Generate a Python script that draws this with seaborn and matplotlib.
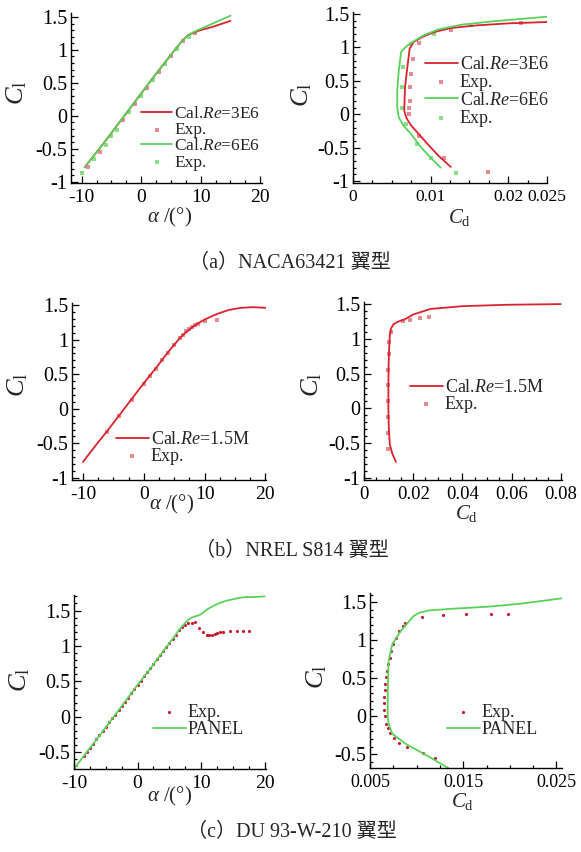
import matplotlib
matplotlib.use("Agg")
import matplotlib.pyplot as plt
import seaborn as sns
from matplotlib.ticker import FixedLocator, MultipleLocator, FuncFormatter

# ---------------- data ----------------
# (a) NACA63421
alpha_a = [-9.5, -8, -6, -4, -2, 0, 2, 4, 6, 7, 8, 9, 10, 12, 15]
cl_a_3e6 = [-0.78, -0.61, -0.38, -0.14, 0.10, 0.34, 0.58, 0.81, 1.04, 1.15, 1.23, 1.27, 1.30, 1.35, 1.44]
cl_a_6e6 = [-0.78, -0.61, -0.38, -0.14, 0.10, 0.34, 0.58, 0.81, 1.04, 1.15, 1.23, 1.28, 1.32, 1.40, 1.52]
exp_alpha_a_3e6 = [-9, -7, -5, -3, -1, 1, 3, 5, 7, 8, 9]
exp_cl_a_3e6 = [-0.77, -0.55, -0.31, -0.07, 0.18, 0.42, 0.66, 0.90, 1.13, 1.21, 1.25]
exp_alpha_a_6e6 = [-10, -8, -6, -5, -4, -2, 0, 2, 4, 6, 8]
exp_cl_a_6e6 = [-0.87, -0.66, -0.44, -0.31, -0.21, 0.05, 0.30, 0.54, 0.78, 1.02, 1.20]

cd_a_3e6 = [0.0126, 0.0110, 0.0098, 0.0085, 0.0075, 0.0069, 0.0066, 0.0067, 0.0070, 0.0073,
            0.0078, 0.0090, 0.0105, 0.0126, 0.0160, 0.0200, 0.0250]
clp_a_3e6 = [-0.79, -0.62, -0.47, -0.30, -0.17, -0.06, 0.05, 0.40, 0.70, 0.98,
             1.08, 1.16, 1.23, 1.29, 1.33, 1.36, 1.38]
cd_a_6e6 = [0.0113, 0.0100, 0.0088, 0.0075, 0.0065, 0.0059, 0.0057, 0.0057, 0.0059, 0.0062,
            0.0068, 0.0078, 0.0091, 0.0110, 0.0140, 0.0180, 0.0250]
clp_a_6e6 = [-0.80, -0.65, -0.50, -0.30, -0.17, -0.05, 0.10, 0.35, 0.65, 0.93,
             1.01, 1.09, 1.18, 1.27, 1.34, 1.39, 1.46]
exp_cd_a_3e6 = [0.0174, 0.0117, 0.0085, 0.0072, 0.0072, 0.0073, 0.0074, 0.0075, 0.0077, 0.0085, 0.0126, 0.0217]
exp_clp_a_3e6 = [-0.87, -0.66, -0.33, 0.0, 0.10, 0.20, 0.40, 0.60, 0.83, 1.07, 1.26, 1.36]
exp_cd_a_6e6 = [0.0133, 0.0100, 0.0083, 0.0068, 0.0063, 0.0063, 0.0065, 0.0075, 0.0105, 0.0152]
exp_clp_a_6e6 = [-0.88, -0.65, -0.45, -0.15, 0.10, 0.40, 0.70, 1.05, 1.20, 1.34]

# (b) NREL S814
alpha_b = [-10, -8, -6, -4, -2, 0, 2, 4, 6, 7, 8, 9, 10, 11, 12, 13, 14, 16, 18, 20]
cl_b = [-0.77, -0.54, -0.32, -0.09, 0.14, 0.37, 0.59, 0.82, 1.03, 1.11, 1.18, 1.24, 1.29,
        1.33, 1.37, 1.40, 1.43, 1.46, 1.47, 1.46]
exp_alpha_b = [-6, -4, -2, 0, 1, 2, 3, 4, 5, 6, 6.5, 7, 7.5, 8, 8.5, 9, 10, 12]
exp_cl_b = [-0.33, -0.10, 0.13, 0.36, 0.47, 0.58, 0.70, 0.81, 0.92, 1.02, 1.07, 1.12,
            1.16, 1.19, 1.21, 1.23, 1.27, 1.29]
cd_b = [0.0130, 0.0115, 0.0105, 0.0101, 0.0099, 0.0099, 0.0100, 0.0102, 0.0105, 0.0110,
        0.0120, 0.0140, 0.0165, 0.0200, 0.0270, 0.0400, 0.0580, 0.0800]
clp_b = [-0.77, -0.65, -0.52, -0.30, 0.00, 0.30, 0.60, 0.85, 1.05, 1.15,
         1.21, 1.25, 1.28, 1.35, 1.43, 1.47, 1.49, 1.50]
exp_cd_b = [0.0097, 0.0096, 0.0096, 0.0096, 0.0097, 0.0098, 0.0100, 0.0103, 0.0108,
            0.0160, 0.0186, 0.0227, 0.0265]
exp_clp_b = [-0.58, -0.35, -0.12, 0.10, 0.33, 0.55, 0.78, 0.95, 1.10, 1.25, 1.27, 1.30, 1.31]

# (c) DU 93-W-210
alpha_c = [-10, -8, -6, -4, -2, 0, 2, 4, 6, 7, 8, 8.5, 9.5, 10, 11, 12, 13, 14, 15, 16, 17, 18, 20]
cl_c = [-0.74, -0.50, -0.27, -0.03, 0.21, 0.45, 0.68, 0.92, 1.16, 1.28, 1.37, 1.40, 1.43,
        1.45, 1.52, 1.57, 1.61, 1.64, 1.66, 1.68, 1.69, 1.69, 1.70]
exp_alpha_c = [-8.5, -8, -7.5, -7, -6.5, -6, -5.5, -5, -4.5, -4, -3.5, -3, -2.5, -2, -1.5, -1,
               -0.5, 0, 0.5, 1, 1.5, 2, 2.5, 3, 3.5, 4, 4.5, 5, 5.5, 6, 6.5, 7, 7.5, 8, 8.5, 9,
               9.7, 10.3, 10.9, 11.3, 11.7, 12.1, 12.5, 13.0, 13.5, 14.5, 15.6, 16.6, 17.6]
exp_cl_c = [-0.56, -0.50, -0.44, -0.38, -0.32, -0.26, -0.20, -0.14, -0.08, -0.02, 0.03, 0.09,
            0.15, 0.21, 0.27, 0.33, 0.39, 0.45, 0.51, 0.57, 0.63, 0.69, 0.75, 0.81, 0.87, 0.93,
            0.98, 1.04, 1.10, 1.16, 1.22, 1.27, 1.30, 1.32, 1.33, 1.34,
            1.25, 1.20, 1.16, 1.15, 1.15, 1.17, 1.18, 1.19, 1.20, 1.21, 1.21, 1.21, 1.21]
cd_c = [0.0134, 0.0113, 0.0088, 0.0074, 0.0070, 0.0069, 0.0069, 0.0070, 0.0074, 0.0083,
        0.0092, 0.0097, 0.0103, 0.0113, 0.0134, 0.0177, 0.0212, 0.0256]
clp_c = [-0.68, -0.53, -0.36, -0.23, -0.10, 0.00, 0.30, 0.73, 0.95, 1.12,
         1.25, 1.32, 1.36, 1.39, 1.41, 1.44, 1.48, 1.55]
exp_cd_c = [0.0120, 0.0107, 0.0090, 0.0081, 0.0076, 0.0071, 0.0069, 0.0067, 0.0066, 0.0065,
            0.0065, 0.0065, 0.0066, 0.0066, 0.0067, 0.0068, 0.0069, 0.0071, 0.0072, 0.0075,
            0.0078, 0.0081, 0.0085, 0.0088, 0.0106, 0.0128, 0.0153, 0.0180, 0.0198]
exp_clp_c = [-0.55, -0.48, -0.41, -0.35, -0.28, -0.22, -0.16, -0.10, 0.00, 0.08,
             0.17, 0.25, 0.34, 0.43, 0.51, 0.60, 0.69, 0.77, 0.86, 0.95,
             1.03, 1.12, 1.19, 1.23, 1.30, 1.33, 1.34, 1.35, 1.35]

captions = ["（a）NACA63421 翼型", "（b）NREL S814 翼型", "（c）DU 93-W-210 翼型"]

# ---------------- style ----------------
sns.set_style("ticks")
plt.rcParams["font.family"] = ["Liberation Serif", "Noto Sans CJK SC"]
plt.rcParams["mathtext.fontset"] = "custom"
plt.rcParams["mathtext.rm"] = "Liberation Serif"
plt.rcParams["mathtext.it"] = "Liberation Serif:italic"
plt.rcParams["axes.unicode_minus"] = False

RED = "#d9232e"
GREEN = "#5ad25a"
PINK = "#e88a92"
LGREEN = "#86e086"
DOT = "#c8142e"

W, H = 581, 852
fig = plt.figure(figsize=(W / 100, H / 100), dpi=100)
fig.patch.set_facecolor("white")


def add_ax(l, r, t, b):
    return fig.add_axes([l / W, 1 - b / H, (r - l) / W, (b - t) / H])


fmt = FuncFormatter(lambda v, p: "%g" % round(v, 6))


def style(ax, xmaj, xmin, ymaj, ymin, xlim, ylim, xsize=14):
    sns.despine(ax=ax)
    ax.set_facecolor("white")
    ax.set_xlim(*xlim)
    ax.set_ylim(*ylim)
    ax.xaxis.set_major_locator(FixedLocator(xmaj))
    ax.xaxis.set_minor_locator(MultipleLocator(xmin))
    ax.yaxis.set_major_locator(FixedLocator(ymaj))
    ax.yaxis.set_minor_locator(MultipleLocator(ymin))
    ax.xaxis.set_major_formatter(fmt)
    ax.yaxis.set_major_formatter(fmt)
    ax.tick_params(which="both", direction="in", colors="black", width=0.9)
    ax.tick_params(which="major", length=5)
    ax.tick_params(which="minor", length=2.5)
    ax.tick_params(axis="y", pad=2.5, labelsize=14.5)
    ax.tick_params(axis="x", pad=4, labelsize=xsize)
    for s in ("left", "bottom"):
        ax.spines[s].set_color("black")
        ax.spines[s].set_linewidth(1.0)
    ax.set_xlabel("")
    ax.set_ylabel("")


def labels(ax, xl, xpos, ypos):
    fig.text(xpos[0] / W, 1 - xpos[1] / H, xl, ha="center", va="center", fontsize=15)
    fig.text(ypos[0] / W, 1 - ypos[1] / H, r"$C_\mathrm{l}$", ha="center", va="center",
             fontsize=19, rotation=90)


def legend(ax, handles, texts, x, y, sp=0.0, fs=13):
    ax.legend(handles, texts, loc="upper left", bbox_to_anchor=(x / W, 1 - y / H),
              bbox_transform=fig.transFigure, frameon=False, borderpad=0, borderaxespad=0,
              handlelength=1.8, handletextpad=0.12, labelspacing=sp, fontsize=fs,
              scatterpoints=1, markerscale=1.0)


def line(ax, x, y, c):
    sns.lineplot(x=x, y=y, sort=False, estimator=None, color=c, lw=1.3, ax=ax)
    return ax.lines[-1]


def pts(ax, x, y, c, m="s", s=9):
    sns.scatterplot(x=x, y=y, marker=m, s=s, color=c, linewidth=0, ax=ax)
    return ax.collections[-1]


alpha_lbl = r"$\alpha$ /(°)"
cd_lbl = r"$C_\mathrm{d}$"
cl_ticks = [-1, -0.5, 0, 0.5, 1, 1.5]

# (a) left
ax = add_ax(71, 262, 13, 183)
e1 = pts(ax, exp_alpha_a_3e6, exp_cl_a_3e6, PINK)
e2 = pts(ax, exp_alpha_a_6e6, exp_cl_a_6e6, LGREEN)
l1 = line(ax, alpha_a, cl_a_3e6, RED)
l2 = line(ax, alpha_a, cl_a_6e6, GREEN)
style(ax, [-10, 0, 10, 20], 2.5, cl_ticks, 0.1, (-11.8, 20.3), (-1.02, 1.56))
legend(ax, [l1, e1, l2, e2], ["Cal.$Re$=3E6", "Exp.", "Cal.$Re$=6E6", "Exp."], 141, 106, fs=12.5)
labels(ax, alpha_lbl, (170, 217), (17, 93))

# (a) right
ax = add_ax(353, 547, 12, 183)
e1 = pts(ax, exp_cd_a_3e6, exp_clp_a_3e6, PINK)
e2 = pts(ax, exp_cd_a_6e6, exp_clp_a_6e6, LGREEN)
l1 = line(ax, cd_a_3e6, clp_a_3e6, RED)
l2 = line(ax, cd_a_6e6, clp_a_6e6, GREEN)
style(ax, [0, 0.01, 0.02, 0.025], 0.0025, cl_ticks, 0.1, (0, 0.025), (-1.03, 1.53), xsize=12.5)
legend(ax, [l1, e1, l2, e2], ["Cal.$Re$=3E6", "Exp.", "Cal.$Re$=6E6", "Exp."], 425, 56, sp=0.05)
labels(ax, cd_lbl, (460, 218), (302, 95))

# (b) left
ax = add_ax(72, 266, 303, 480)
e1 = pts(ax, exp_alpha_b, exp_cl_b, PINK)
l1 = line(ax, alpha_b, cl_b, RED)
style(ax, [-10, 0, 10, 20], 2.5, cl_ticks, 0.1, (-11.8, 20.1), (-1.03, 1.53))
legend(ax, [l1, e1], ["Cal.$Re$=1.5M", "Exp."], 116, 431)
labels(ax, alpha_lbl, (172, 504), (18, 385))

# (b) right
ax = add_ax(364, 562, 302, 480)
e1 = pts(ax, exp_cd_b, exp_clp_b, PINK)
l1 = line(ax, cd_b, clp_b, RED)
style(ax, [0, 0.02, 0.04, 0.06, 0.08], 0.005, cl_ticks, 0.1, (0, 0.0805), (-1.03, 1.53), xsize=13.5)
legend(ax, [l1, e1], ["Cal.$Re$=1.5M", "Exp."], 410, 379)
labels(ax, cd_lbl, (467, 513), (312, 385))

# (c) left
ax = add_ax(74, 266, 595, 769)
l1 = line(ax, alpha_c, cl_c, GREEN)
e1 = pts(ax, exp_alpha_c, exp_cl_c, DOT, m="o", s=5)
style(ax, [-10, 0, 10, 20], 2.5, [-0.5, 0, 0.5, 1, 1.5], 0.1, (-10, 20.2), (-0.74, 1.72))
legend(ax, [e1, l1], ["Exp.", "PANEL"], 153, 704)
labels(ax, alpha_lbl, (170, 796), (20, 680))

# (c) right
ax = add_ax(370, 562, 593, 768)
l1 = line(ax, cd_c, clp_c, GREEN)
e1 = pts(ax, exp_cd_c, exp_clp_c, DOT, m="o", s=5)
style(ax, [0.005, 0.015, 0.025], 0.0025, [-0.5, 0, 0.5, 1, 1.5], 0.1, (0.005, 0.0256), (-0.68, 1.62),
      xsize=13)
legend(ax, [e1, l1], ["Exp.", "PANEL"], 447, 704)
labels(ax, cd_lbl, (463, 801), (317, 677))

for txt, (cx, cy) in zip(captions, [(290, 263), (292, 551), (292, 832)]):
    fig.text(cx / W, 1 - cy / H, txt, ha="center", va="center", fontsize=14.5)

fig.savefig("out.png", dpi=100, facecolor="white")
